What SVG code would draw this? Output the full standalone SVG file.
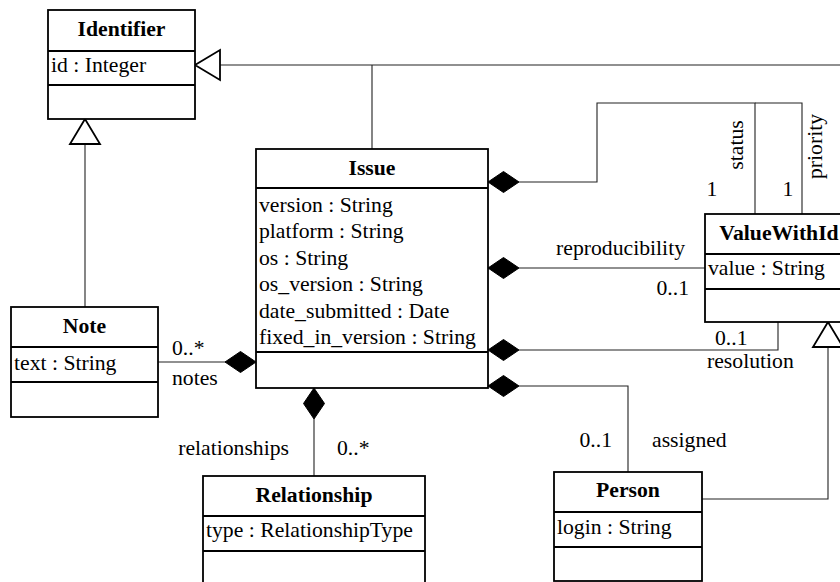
<svg xmlns="http://www.w3.org/2000/svg" xmlns:xlink="http://www.w3.org/1999/xlink" width="840" height="582" viewBox="0 0 840 582">
<style>
text{font-family:'Liberation Serif','Times New Roman',Times,serif;font-size:21.7px;fill:#000}
.t{font-weight:bold;text-anchor:middle}
.box{fill:#fff;stroke:#000;stroke-width:1.8}
.sep{stroke:#000;stroke-width:1.8}
.c{fill:none;stroke:#222;stroke-width:1.1}
.dia{fill:#000;stroke:#000;stroke-width:1}
.tri{fill:#fff;stroke:#000;stroke-width:1.8}
</style>
<defs>
<path id="dia" d="M0,0 L15.5,-10.5 L31,0 L15.5,10.5 Z"/>
<path id="tri" d="M0,0 L-15,25 L15,25 Z"/>
</defs>
<rect width="840" height="582" fill="#fff"/>
<g id="connectors">
<path class="c" d="M372,149 V65 M220,65 H840"/>
<path class="c" d="M85,145 V307"/>
<path class="c" d="M702,499 H828 V348"/>
<path class="c" d="M519,182 H597 V103 H755 V214"/>
<path class="c" d="M755,103 H802 V214"/>
<path class="c" d="M519,268 H705"/>
<path class="c" d="M519,350 H778 V322"/>
<path class="c" d="M519,386 H628 V472"/>
<path class="c" d="M158,362 H226"/>
<path class="c" d="M314,419 V476"/>
<use href="#tri" class="tri" transform="translate(195,65) rotate(-90)"/>
<use href="#tri" class="tri" transform="translate(85,119)"/>
<use href="#tri" class="tri" transform="translate(828,322)"/>
<use href="#dia" class="dia" transform="translate(488,182)"/>
<use href="#dia" class="dia" transform="translate(488,268)"/>
<use href="#dia" class="dia" transform="translate(488,350)"/>
<use href="#dia" class="dia" transform="translate(488,386)"/>
<use href="#dia" class="dia" transform="translate(256,362) rotate(180)"/>
<use href="#dia" class="dia" transform="translate(314,388) rotate(90)"/>
<text transform="translate(743,145) rotate(-90)" text-anchor="middle">status</text>
<text transform="translate(822,146.5) rotate(-90)" text-anchor="middle">priority</text>
<text x="712" y="196" text-anchor="middle">1</text>
<text x="788" y="196" text-anchor="middle">1</text>
<text x="685" y="255" text-anchor="end">reproducibility</text>
<text x="689" y="295" text-anchor="end">0..1</text>
<text x="715" y="345">0..1</text>
<text x="707" y="368">resolution</text>
<text x="612" y="447" text-anchor="end">0..1</text>
<text x="652" y="447">assigned</text>
<text x="172" y="355">0..*</text>
<text x="172" y="385">notes</text>
<text x="289" y="455" text-anchor="end">relationships</text>
<text x="337" y="455">0..*</text>
</g>
<g id="Identifier">
<rect class="box" x="48" y="10" width="147" height="109"/>
<path class="sep" d="M48,51 H195 M48,85 H195"/>
<text class="t" x="121.5" y="36">Identifier</text>
<text x="51" y="72">id : Integer</text>
</g>
<g id="Note">
<rect class="box" x="11" y="307" width="147" height="110"/>
<path class="sep" d="M11,347 H158 M11,382 H158"/>
<text class="t" x="84.5" y="333">Note</text>
<text x="14" y="370">text : String</text>
</g>
<g id="Issue">
<rect class="box" x="256" y="149" width="232" height="239"/>
<path class="sep" d="M256,188 H488 M256,352 H488"/>
<text class="t" x="372" y="175">Issue</text>
<text x="259" y="212">version : String</text>
<text x="259" y="238.4">platform : String</text>
<text x="259" y="264.8">os : String</text>
<text x="259" y="291.2">os_version : String</text>
<text x="259" y="317.6">date_submitted : Date</text>
<text x="259" y="344">fixed_in_version : String</text>
</g>
<g id="ValueWithId">
<rect class="box" x="705" y="214" width="148" height="108"/>
<path class="sep" d="M705,254 H853 M705,289 H853"/>
<text class="t" x="779" y="240">ValueWithId</text>
<text x="708" y="275">value : String</text>
</g>
<g id="Person">
<rect class="box" x="554" y="472" width="148" height="109"/>
<path class="sep" d="M554,512 H702 M554,547 H702"/>
<text class="t" x="628" y="497">Person</text>
<text x="557" y="534">login : String</text>
</g>
<g id="Relationship">
<rect class="box" x="203" y="476" width="222" height="110"/>
<path class="sep" d="M203,516 H425 M203,551 H425"/>
<text class="t" x="314" y="502">Relationship</text>
<text x="206" y="537">type : RelationshipType</text>
</g>
</svg>
